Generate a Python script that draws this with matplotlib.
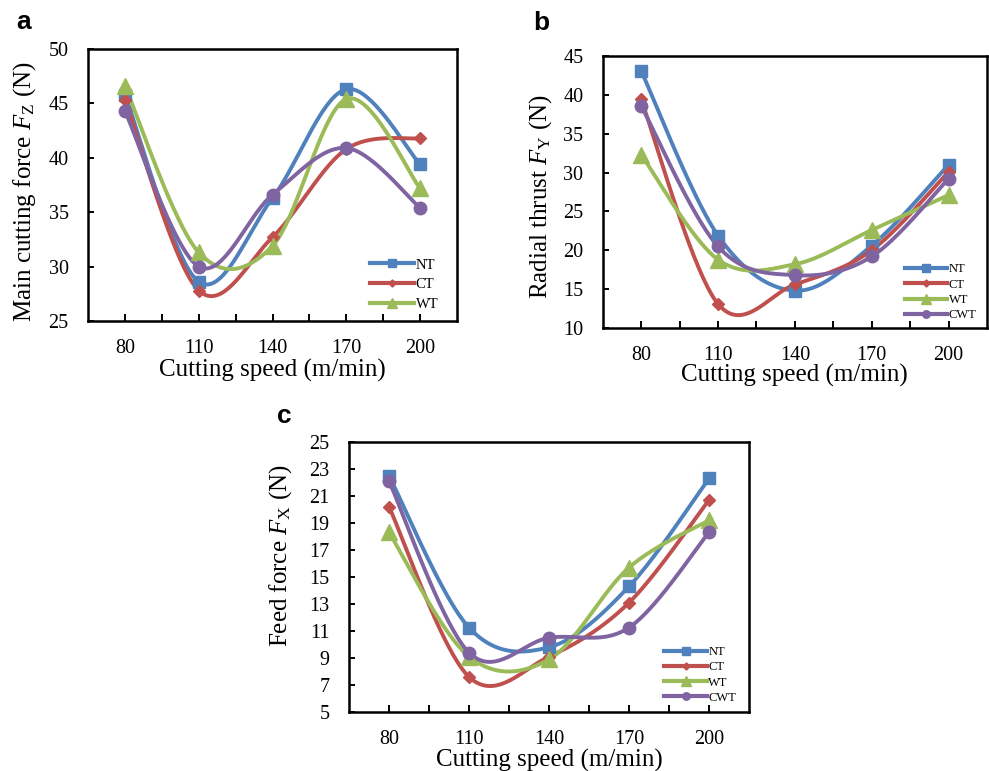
import numpy as np
import matplotlib
matplotlib.use("Agg")
import matplotlib.pyplot as plt
from matplotlib.lines import Line2D

plt.rcParams['font.family'] = ['Liberation Serif', 'DejaVu Serif']
plt.rcParams['mathtext.fontset'] = 'custom'
plt.rcParams['mathtext.rm'] = 'Liberation Serif'
plt.rcParams['mathtext.it'] = 'Liberation Serif:italic'

speeds = ['80', '110', '140', '170', '200']

# panel a: main cutting force Fz (N)
fz_nt = [45.8, 28.6, 36.3, 46.3, 39.4]
fz_ct = [45.3, 27.8, 32.7, 40.8, 41.8]
fz_wt = [46.6, 31.3, 31.9, 45.4, 37.2]
fz_cwt = [44.3, 30.0, 36.6, 40.9, 35.4]

# panel b: radial thrust Fy (N)
fy_nt = [43.1, 21.9, 14.8, 20.6, 31.0]
fy_ct = [39.4, 13.1, 15.6, 20.0, 30.1]
fy_wt = [32.3, 18.8, 18.2, 22.6, 27.1]
fy_cwt = [38.6, 20.5, 16.8, 19.2, 29.2]

# panel c: feed force Fx (N)
fx_nt = [22.5, 11.25, 9.8, 14.3, 22.3]
fx_ct = [20.2, 7.6, 9.1, 13.1, 20.7]
fx_wt = [18.3, 9.1, 8.9, 15.7, 19.2]
fx_cwt = [22.1, 9.4, 10.5, 11.25, 18.3]

COLORS = {'NT': '#4F81BD', 'CT': '#C0504D', 'WT': '#9BBB59', 'CWT': '#8064A2'}
MARKERS = {'NT': ('s', 9), 'CT': ('D', 6), 'WT': ('^', 11), 'CWT': ('o', 9)}


def smooth(x, y, n=40):
    """Excel-like smoothed line (Catmull-Rom bezier)."""
    pts = np.column_stack([x, y]).astype(float)
    ext = np.vstack([pts[0], pts, pts[-1]])
    t = np.linspace(0, 1, n)[:, None]
    segs = []
    for i in range(len(pts) - 1):
        p0, p3 = ext[i + 1], ext[i + 2]
        p1 = p0 + (ext[i + 2] - ext[i]) / 6
        p2 = p3 - (ext[i + 3] - ext[i + 1]) / 6
        seg = (1 - t) ** 3 * p0 + 3 * (1 - t) ** 2 * t * p1 + 3 * (1 - t) * t ** 2 * p2 + t ** 3 * p3
        segs.append(seg)
    c = np.vstack(segs)
    return c[:, 0], c[:, 1]


def draw_panel(ax, series, ylim, yticks, ylabel, ylab_pos, xlab_y, legend_keys,
               leg_fs, leg_anchor, leg_spacing, leg_hl):
    x = np.arange(len(speeds))
    for key, vals in series:
        sx, sy = smooth(x, vals)
        ax.plot(sx, sy, color=COLORS[key], lw=2.8, solid_capstyle='round', zorder=2)
    for key, vals in series:
        m, ms = MARKERS[key]
        ax.plot(x, vals, ls='none', marker=m, ms=ms, color=COLORS[key], zorder=3)
    ax.set_xlim(-0.5, len(speeds) - 0.5)
    ax.set_ylim(*ylim)
    ax.set_yticks(yticks)
    ax.set_xticks(x)
    ax.set_xticklabels(speeds)
    ax.set_xticks(np.arange(0.5, len(speeds) - 1, 1.0), minor=True)
    ax.tick_params(axis='x', which='both', direction='in', length=5, width=1.4, pad=13, labelsize=14.5)
    ax.tick_params(axis='y', direction='in', length=4, width=1.4, pad=14, labelsize=14.5)
    for s in ax.spines.values():
        s.set_linewidth(1.8)
    ax.set_xlabel('Cutting speed (m/min)', fontsize=18)
    ax.xaxis.set_label_coords(0.5, xlab_y)
    ax.set_ylabel(ylabel, fontsize=18)
    ax.yaxis.set_label_coords(*ylab_pos)
    handles = [Line2D([], [], color=COLORS[k], lw=3, marker=MARKERS[k][0],
                      ms=MARKERS[k][1] * 0.6) for k in legend_keys]
    ax.legend(handles, legend_keys, loc='lower right', bbox_to_anchor=leg_anchor,
              frameon=False, fontsize=leg_fs, handlelength=leg_hl, handletextpad=0.1,
              labelspacing=leg_spacing, borderaxespad=0)


fig = plt.figure(figsize=(9.89, 7.71), dpi=100)

ax_a = fig.add_axes([0.0890, 0.5837, 0.3731, 0.3528])
draw_panel(ax_a, [('NT', fz_nt), ('CT', fz_ct), ('WT', fz_wt), ('CWT', fz_cwt)],
           (25, 50), np.arange(25, 51, 5), 'Main cutting force $\\mathit{F}_{\\mathrm{Z}}$ (N)',
           (-0.135, 0.474), -0.138, ['NT', 'CT', 'WT'], 10.5, (0.965, 0.015), 0.45, 3.0)

ax_b = fig.add_axes([0.6094, 0.5746, 0.3886, 0.3528])
draw_panel(ax_b, [('NT', fy_nt), ('CT', fy_ct), ('WT', fy_wt), ('CWT', fy_cwt)],
           (10, 45), np.arange(10, 46, 5), 'Radial thrust $\\mathit{F}_{\\mathrm{Y}}$ (N)',
           (-0.127, 0.485), -0.132, ['NT', 'CT', 'WT', 'CWT'], 9, (0.985, 0.006), 0.27, 3.4)

ax_c = fig.add_axes([0.3529, 0.0765, 0.4044, 0.3502])
draw_panel(ax_c, [('NT', fx_nt), ('CT', fx_ct), ('WT', fx_wt), ('CWT', fx_cwt)],
           (5, 25), np.arange(5, 26, 2), 'Feed force $\\mathit{F}_{\\mathrm{X}}$ (N)',
           (-0.1375, 0.578), -0.135, ['NT', 'CT', 'WT', 'CWT'], 9, (0.98, 0.012), 0.26, 3.4)

for lbl, px, py in [('a', 16, 29), ('b', 533, 30), ('c', 277, 423)]:
    fig.text(px / 989, 1 - py / 771, lbl, fontsize=19, fontweight='bold',
             family='Liberation Sans', ha='left', va='baseline')

fig.savefig('out.png', dpi=100)
